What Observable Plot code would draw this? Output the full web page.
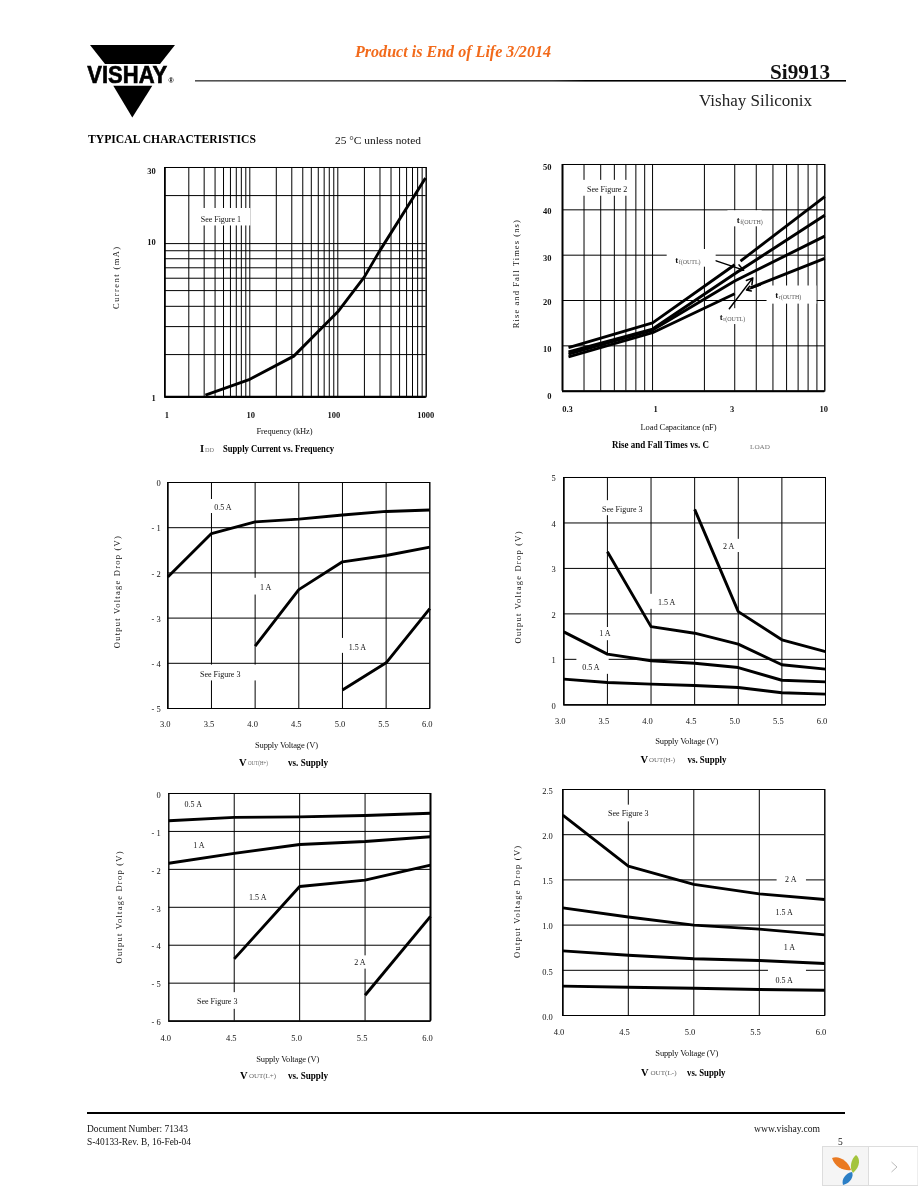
<!DOCTYPE html>
<html>
<head>
<meta charset="utf-8">
<title>Si9913 Typical Characteristics</title>
<script src="https://cdn.jsdelivr.net/npm/d3@7"></script>
<script src="https://cdn.jsdelivr.net/npm/@observablehq/plot@0.6"></script>
<style>
  html, body { margin: 0; padding: 0; background: #fff; }
  #page { position: relative; width: 918px; height: 1188px; overflow: hidden; background: #fff; font-family: "Liberation Serif", serif; }
  #page svg { position: absolute; overflow: visible; background: transparent; will-change: transform; }
</style>
</head>
<body>
<div id="page"></div>
<script>
// ---------- Chart 1: IDD supply current vs. frequency ----------
const iddFrequency = [3.1, 10, 31.6, 100, 200, 293, 982];
const iddCurrent   = [1.03, 1.335, 1.95, 3.7, 6.12, 8.85, 25.8];
const freqGrid = [1,2,3,4,5,6,7,8,9,10,20,30,40,50,60,70,80,90,100,200,300,400,500,600,700,800,900,1000];
const currentGrid = [1,2,3,4,5,6,7,8,9,10,20,30];

// ---------- Chart 2: rise and fall times vs. load capacitance ----------
const capGrid = [0.3,0.4,0.5,0.6,0.7,0.8,0.9,1,2,3,4,5,6,7,8,9,10];
const capX     = [0.325, 1, 3];
const tfOuthA  = [9.63, 15.07, 27.9];
const tfOuthBx = [3.24, 10];
const tfOuthB  = [28.7, 42.9];
const tfOutlX  = [0.325, 1, 3, 10];
const tfOutl   = [8.68, 13.7, 25.9, 38.8];
const trOuth   = [8.16, 13.5, 24.3, 34.2];
const trOutlA  = [7.57, 12.9, 21.5];
const trOutlBx = [3.7, 10];
const trOutlB  = [22.8, 29.3];

// ---------- Chart 3: VOUT(H+) vs. supply ----------
const hPlusV = [3, 3.5, 4, 4.5, 5, 5.5, 6];
const hPlus05A = [-2.09, -1.13, -0.87, -0.81, -0.72, -0.64, -0.61];
const hPlus1A  = [-3.62, -2.37, -1.755, -1.615, -1.43];
const hPlus15A = [-4.59, -3.99, -2.79];

// ---------- Chart 4: VOUT(H-) vs. supply ----------
const hMinus05A = [0.565, 0.49, 0.455, 0.425, 0.38, 0.264, 0.235];
const hMinus1A  = [1.605, 1.115, 0.97, 0.915, 0.82, 0.54, 0.505];
const hMinus15A = [3.365, 1.72, 1.575, 1.335, 0.88, 0.785];
const hMinus2A  = [4.3, 2.05, 1.43, 1.17];

// ---------- Chart 5: VOUT(L+) vs. supply ----------
const lV = [4, 4.5, 5, 5.5, 6];
const lPlus05A = [-0.72, -0.63, -0.615, -0.58, -0.52];
const lPlus1A  = [-1.84, -1.58, -1.345, -1.265, -1.14];
const lPlus15A = [-4.36, -2.45, -2.285, -1.89];
const lPlus2A  = [-5.32, -3.24];

// ---------- Chart 6: VOUT(L-) vs. supply ----------
const lMinus05A = [0.325, 0.313, 0.302, 0.288, 0.28];
const lMinus1A  = [0.715, 0.667, 0.627, 0.608, 0.575];
const lMinus15A = [1.19, 1.09, 1.0, 0.955, 0.892];
const lMinus2A  = [2.216, 1.652, 1.45, 1.346, 1.283];

const rows = (xs, ys) => ys.map((y, i) => ({x: xs[i], y}));
const serif = "Liberation Serif";
const dash = d => d < 0 ? "- " + Math.abs(d) : String(d);

const charts = [
  {
    frame: [164.3, 425.7, 167.3, 396.7], cell: [100, 340],
    x: {type: "log", domain: [1, 2, 10, 100, 1000], offsets: [0, 24, 85, 173, 261.4]},
    y: {type: "log", domain: [1, 2, 3, 5, 10, 30], offsets: [0, 42.3, 70.3, 106.3, 153.3, 229.4]},
    gridX: freqGrid, gridY: currentGrid,
    xTicks: [1, 10, 100, 1000], xDx: {1: 2, 10: 1, 100: -4, 1000: -0.5}, xTickY: 414.7, xFmt: String,
    yTicks: [1, 10, 30], yDy: {1: 1, 10: -1, 30: 4}, yPad: 9, yFmt: String, tickWeight: "bold",
    xLabel: ["Frequency (kHz)", 284, 431.3, 56], yLabel: ["Current (mA)", 116, 277.7, 62],
    lines: [rows(iddFrequency, iddCurrent)],
    masks: [{x1: 2.67, x2: 10.3, y1: 12.9, y2: 16.6}],
    notes: [{x: 4.66, y: 14.2, t: "See Figure 1"}],
    border: {left: 1.6, bottom: 2.4}
  },
  {
    frame: [562, 824.3, 164.3, 391], cell: [505, 335],
    x: {type: "log", domain: [0.3, 10]},
    y: {domain: [0, 50]},
    gridX: capGrid, gridY: [0, 10, 20, 30, 40, 50],
    xTicks: [0.3, 1, 3, 10], xDx: {0.3: 5, 1: 3, 3: -2.7, 10: -1}, xTickY: 409, xFmt: String, xAsText: true,
    yTicks: [0, 10, 20, 30, 40, 50], yDy: {0: 4.7, 40: 1.5, 20: 1.5}, yDyAll: 3.2, yPad: 11, yFmt: String, tickWeight: "bold",
    xLabel: ["Load Capacitance (nF)", 678, 427.5, 76], yLabel: ["Rise and Fall Times (ns)", 515.7, 274, 108],
    lines: [rows(capX, tfOuthA), rows(tfOuthBx, tfOuthB), rows(tfOutlX, tfOutl), rows(tfOutlX, trOuth), rows(capX, trOutlA), rows(trOutlBx, trOutlB)],
    masks: [
      {x1: 0.37, x2: 0.735, y1: 43, y2: 46.5},
      {x1: 2.74, x2: 4.33, y1: 36.25, y2: 39.8},
      {x1: 1.216, x2: 2.34, y1: 27.35, y2: 31.25},
      {x1: 4.62, x2: 9.0, y1: 19.2, y2: 23.2},
      {x1: 2.43, x2: 3.46, y1: 14.7, y2: 18.2}
    ],
    notes: [{x: 0.545, y: 44.5, t: "See Figure 2"}],
    times: [
      {x: 3.12, y: 37.7, sub: "f(OUTH)"},
      {x: 1.371, y: 28.9, sub: "f(OUTL)"},
      {x: 5.22, y: 21.2, sub: "r(OUTH)"},
      {x: 2.49, y: 16.3, sub: "r(OUTL)"}
    ],
    arrows: [
      {x1: 2.34, y1: 28.75, x2: 3.38, y2: 26.7},
      {x1: 2.79, y1: 18.2, x2: 3.82, y2: 25},
      {x1: 4.23, y1: 23.4, x2: 3.51, y2: 22.3}
    ],
    border: {left: 2, bottom: 2}
  },
  {
    frame: [167.3, 429.3, 482.3, 708.3], cell: [100, 340],
    x: {domain: [3, 6]}, y: {domain: [-5, 0]},
    gridX: [3, 3.5, 4, 4.5, 5, 5.5, 6], gridY: [0, -1, -2, -3, -4, -5],
    xTicks: [3, 3.5, 4, 4.5, 5, 5.5, 6], xDxAll: -2.5, xTickY: 724.3, xFmt: d3.format(".1f"),
    yTicks: [0, -1, -2, -3, -4, -5], yDyAll: 1, yPad: 7, yFmt: dash,
    xLabel: ["Supply Voltage (V)", 286, 745, 63], yLabel: ["Output Voltage Drop (V)", 116.7, 592, 112],
    lines: [rows(hPlusV, hPlus05A), rows(hPlusV.slice(2), hPlus1A), rows(hPlusV.slice(4), hPlus15A)],
    masks: [
      {x1: 3.49, x2: 3.775, y1: -0.686, y2: -0.376},
      {x1: 3.985, x2: 4.245, y1: -2.49, y2: -2.12},
      {x1: 4.985, x2: 5.31, y1: -3.78, y2: -3.45},
      {x1: 3.34, x2: 4.02, y1: -4.39, y2: -4.04}
    ],
    notes: [
      {x: 3.63, y: -0.56, t: "0.5 A"}, {x: 4.12, y: -2.32, t: "1 A"},
      {x: 5.17, y: -3.64, t: "1.5 A"}, {x: 3.6, y: -4.25, t: "See Figure 3"}
    ],
    border: {left: 1.2, bottom: 1.2}
  },
  {
    frame: [563.3, 825, 476.7, 704], cell: [505, 335],
    x: {domain: [3, 6]}, y: {domain: [0, 5]},
    gridX: [3, 3.5, 4, 4.5, 5, 5.5, 6], gridY: [0, 1, 2, 3, 4, 5],
    xTicks: [3, 3.5, 4, 4.5, 5, 5.5, 6], xDxAll: -3.5, xTickY: 720, xFmt: d3.format(".1f"),
    yTicks: [0, 1, 2, 3, 4, 5], yDyAll: 1.2, yPad: 8, yFmt: String,
    xLabel: ["Supply Voltage (V)", 686.3, 740.7, 63], yLabel: ["Output Voltage Drop (V)", 517.7, 586.7, 112],
    lines: [rows(hPlusV, hMinus05A), rows(hPlusV, hMinus1A), rows(hPlusV.slice(1), hMinus15A), rows(hPlusV.slice(3), hMinus2A)],
    masks: [
      {x1: 3.44, x2: 3.92, y1: 4.16, y2: 4.49},
      {x1: 4.815, x2: 5.02, y1: 3.35, y2: 3.64},
      {x1: 3.98, x2: 4.32, y1: 2.1, y2: 2.43},
      {x1: 3.36, x2: 3.59, y1: 1.41, y2: 1.7},
      {x1: 3.15, x2: 3.52, y1: 0.67, y2: 1.08}
    ],
    notes: [
      {x: 3.67, y: 4.3, t: "See Figure 3"}, {x: 4.89, y: 3.49, t: "2 A"},
      {x: 4.18, y: 2.26, t: "1.5 A"}, {x: 3.47, y: 1.57, t: "1 A"}, {x: 3.31, y: 0.82, t: "0.5 A"}
    ],
    border: {left: 1.2, bottom: 1.2}
  },
  {
    frame: [168.3, 430, 792.7, 1020.3], cell: [100, 340],
    x: {domain: [4, 6]}, y: {domain: [-6, 0]},
    gridX: lV, gridY: [0, -1, -2, -3, -4, -5, -6],
    xTicks: lV, xDxAll: -3, xTickY: 1037.3, xFmt: d3.format(".1f"),
    yTicks: [0, -1, -2, -3, -4, -5, -6], yDyAll: 1.5, yPad: 8, yFmt: dash,
    xLabel: ["Supply Voltage (V)", 287.3, 1058.3, 63], yLabel: ["Output Voltage Drop (V)", 118.3, 906.7, 112],
    lines: [rows(lV, lPlus05A), rows(lV, lPlus1A), rows(lV.slice(1), lPlus15A), rows(lV.slice(3), lPlus2A)],
    masks: [
      {x1: 5.4, x2: 5.52, y1: -4.63, y2: -4.28},
      {x1: 4.22, x2: 4.68, y1: -5.69, y2: -5.25}
    ],
    notes: [
      {x: 4.187, y: -0.3, t: "0.5 A"}, {x: 4.23, y: -1.38, t: "1 A"},
      {x: 4.68, y: -2.75, t: "1.5 A"}, {x: 5.46, y: -4.45, t: "2 A"}, {x: 4.37, y: -5.47, t: "See Figure 3"}
    ],
    border: {right: 2, bottom: 1.2}
  },
  {
    frame: [562.3, 824.3, 789.3, 1015.3], cell: [505, 335],
    x: {domain: [4, 6]}, y: {domain: [0, 2.5]},
    gridX: lV, gridY: [0, 0.5, 1, 1.5, 2, 2.5],
    xTicks: lV, xDxAll: -3.8, xTickY: 1031.7, xFmt: d3.format(".1f"),
    yTicks: [0, 0.5, 1, 1.5, 2, 2.5], yDyAll: 1.5, yPad: 10, yFmt: d3.format(".1f"),
    xLabel: ["Supply Voltage (V)", 686.3, 1053.3, 63], yLabel: ["Output Voltage Drop (V)", 516.7, 901.7, 112],
    lines: [rows(lV, lMinus05A), rows(lV, lMinus1A), rows(lV, lMinus15A), rows(lV, lMinus2A)],
    masks: [
      {x1: 4.356, x2: 4.656, y1: 2.142, y2: 2.327},
      {x1: 5.636, x2: 5.86, y1: 1.468, y2: 1.534},
      {x1: 5.57, x2: 5.86, y1: 0.472, y2: 0.52}
    ],
    notes: [
      {x: 4.5, y: 2.235, t: "See Figure 3"}, {x: 5.74, y: 1.505, t: "2 A"},
      {x: 5.69, y: 1.14, t: "1.5 A"}, {x: 5.73, y: 0.75, t: "1 A"}, {x: 5.69, y: 0.39, t: "0.5 A"}
    ],
    border: {left: 1.2, bottom: 1.2}
  }
];

const page = document.getElementById("page");

function drawChart(c) {
  const [L, R, T, B] = c.frame;
  const [cellX, cellW] = c.cell;
  const cellY = T - 15;
  const height = B - T + 15 + 55;
  const marginLeft = L - cellX, marginTop = T - cellY;
  const marginRight = cellX + cellW - R, marginBottom = height - (B - T) - marginTop;

  const xScale = {...c.x};
  if (c.x.offsets) { xScale.range = c.x.offsets.map(o => marginLeft + o); delete xScale.offsets; }
  const yScale = {...c.y};
  if (c.y.offsets) { yScale.range = c.y.offsets.map(o => marginTop + (B - T) - o); delete yScale.offsets; }
  xScale.axis = null; yScale.axis = null;

  const xMin = c.x.domain[0], xMax = c.x.domain[c.x.domain.length - 1];
  const yMin = c.y.domain[0];
  const ink = "#000";
  const marks = [
    Plot.gridX(c.gridX, {stroke: ink, strokeOpacity: 1, strokeWidth: 1}),
    Plot.gridY(c.gridY, {stroke: ink, strokeOpacity: 1, strokeWidth: 1}),
    Plot.rect(c.masks, {x1: "x1", x2: "x2", y1: "y1", y2: "y2", fill: "#fff"}),
    Plot.frame({stroke: ink, strokeWidth: 1})
  ];
  if (c.border.left) marks.push(Plot.ruleX([xMin], {stroke: ink, strokeWidth: c.border.left}));
  if (c.border.right) marks.push(Plot.ruleX([xMax], {stroke: ink, strokeWidth: c.border.right}));
  if (c.border.bottom) marks.push(Plot.ruleY([yMin], {stroke: ink, strokeWidth: c.border.bottom}));
  for (const r of c.lines) {
    marks.push(Plot.line(r, {x: "x", y: "y", stroke: ink, strokeWidth: 2.9, strokeLinecap: "butt", strokeLinejoin: "round"}));
  }
  if (c.arrows) {
    marks.push(Plot.arrow(c.arrows, {x1: "x1", y1: "y1", x2: "x2", y2: "y2", stroke: ink, strokeWidth: 1.5, headLength: 7, bend: 0}));
  }
  const weight = c.tickWeight || "normal";
  for (const v of c.xTicks) {
    const dx = c.xDx ? (c.xDx[v] || 0) : c.xDxAll;
    if (c.xAsText) {
      marks.push(Plot.text([v], {x: d => d, text: c.xFmt, frameAnchor: "bottom", lineAnchor: "middle", dx, dy: c.xTickY - B,
        fontSize: 8.5, fontFamily: serif, fontWeight: weight, fill: "#111"}));
    } else {
      marks.push(Plot.axisX([v], {anchor: "bottom", tickSize: 0, tickPadding: c.xTickY - B - 3.2, dx, label: null,
        tickFormat: c.xFmt, fontSize: 8.5, fontFamily: serif, fontWeight: weight, fill: "#111"}));
    }
  }
  for (const v of c.yTicks) {
    const dy = (c.yDy && c.yDy[v] !== undefined) ? c.yDy[v] : (c.yDyAll || 0);
    marks.push(Plot.axisY([v], {anchor: "left", tickSize: 0, tickPadding: c.yPad, dy, label: null,
      tickFormat: c.yFmt, fontSize: 8.5, fontFamily: serif, fontWeight: weight, fill: "#111"}));
  }
  const [xl, xlX, xlY] = c.xLabel;
  const [yl, ylX, ylY] = c.yLabel;
  marks.push(Plot.text([xl], {frameAnchor: "bottom", textAnchor: "middle", lineAnchor: "middle",
    dx: xlX - (L + R) / 2, dy: xlY - B, fontSize: 8.5, fontFamily: serif, fill: "#111"}));
  marks.push(Plot.text([yl], {frameAnchor: "left", textAnchor: "middle", lineAnchor: "middle", rotate: -90,
    dx: ylX - L, dy: ylY - (T + B) / 2, fontSize: 8.5, fontFamily: serif, fill: "#111"}));
  marks.push(Plot.text(c.notes, {x: "x", y: "y", text: "t", textAnchor: "middle", lineAnchor: "middle",
    fontSize: 8, fontFamily: serif, fill: "#111"}));
  if (c.times) {
    marks.push(Plot.text(c.times, {x: "x", y: "y", text: () => "t", textAnchor: "start", lineAnchor: "middle",
      dx: -1, fontSize: 9, fontWeight: "bold", fontFamily: serif, fill: "#111"}));
    marks.push(Plot.text(c.times, {x: "x", y: "y", text: "sub", textAnchor: "start", lineAnchor: "middle",
      dx: 2.5, dy: 2, fontSize: 6, fontFamily: serif, fill: "#555"}));
  }

  const svg = Plot.plot({
    width: cellW, height, marginLeft, marginRight, marginTop, marginBottom,
    x: xScale, y: yScale, marks,
    style: {fontFamily: serif, background: "transparent", overflow: "visible"}
  });
  svg.style.left = cellX + "px";
  svg.style.top = cellY + "px";
  // stretch the axis titles to the span they occupy in the scan
  d3.select(svg).selectAll("text").each(function () {
    if (this.textContent === xl) this.setAttribute("textLength", c.xLabel[3]);
    if (this.textContent === yl) this.setAttribute("textLength", c.yLabel[3]);
  });
  page.appendChild(svg);
}
charts.forEach(drawChart);

// ---------- page furniture: header, chart captions, footer ----------
const pageTexts = [
  {t: "Product is End of Life 3/2014", x: 355, y: 51, w: 196, size: 16, weight: "bold", style: "italic", fill: "#f26a1b"},
  {t: "Si9913", x: 770, y: 71.5, w: 60, size: 20, weight: "bold", fill: "#111"},
  {t: "Vishay Siliconix", x: 699, y: 100.5, w: 113, size: 16, fill: "#222"},
  {t: "TYPICAL CHARACTERISTICS", x: 88, y: 139, w: 168, size: 11.5, weight: "bold", fill: "#000"},
  {t: "25 °C unless noted", x: 335, y: 139.5, w: 86, size: 11, fill: "#111"},

  {t: "I", x: 200, y: 448, size: 10.5, weight: "bold", fill: "#000"},
  {t: "DD", x: 205, y: 449.5, w: 9, size: 6, fill: "#777"},
  {t: "Supply Current vs. Frequency", x: 223, y: 448, w: 111, size: 10, weight: "bold", fill: "#000"},

  {t: "Rise and Fall Times vs. C", x: 612, y: 444, w: 97, size: 10, weight: "bold", fill: "#000"},
  {t: "LOAD", x: 750, y: 447, w: 20, size: 6, fill: "#777"},

  {t: "V", x: 239, y: 762, size: 10.5, weight: "bold", fill: "#000"},
  {t: "OUT(H+)", x: 248, y: 763, w: 20, size: 6, fill: "#666"},
  {t: "vs. Supply", x: 288, y: 762, w: 40, size: 10, weight: "bold", fill: "#000"},

  {t: "V", x: 640.5, y: 759, size: 10.5, weight: "bold", fill: "#000"},
  {t: "OUT(H-)", x: 649, y: 760, w: 26, size: 6, fill: "#666"},
  {t: "vs. Supply", x: 687.5, y: 759, w: 39, size: 10, weight: "bold", fill: "#000"},

  {t: "V", x: 240, y: 1075, size: 10.5, weight: "bold", fill: "#000"},
  {t: "OUT(L+)", x: 249, y: 1076, w: 27, size: 6, fill: "#666"},
  {t: "vs. Supply", x: 288, y: 1075, w: 40, size: 10, weight: "bold", fill: "#000"},

  {t: "V", x: 641, y: 1072, size: 10.5, weight: "bold", fill: "#000"},
  {t: "OUT(L-)", x: 650.5, y: 1073, w: 26, size: 6, fill: "#666"},
  {t: "vs. Supply", x: 687, y: 1072, w: 38.5, size: 10, weight: "bold", fill: "#000"},

  {t: "Document Number: 71343", x: 87, y: 1129, w: 101, size: 9.5, fill: "#111"},
  {t: "S-40133-Rev. B, 16-Feb-04", x: 87, y: 1142, w: 104, size: 9.5, fill: "#111"},
  {t: "www.vishay.com", x: 754, y: 1129, w: 66, size: 9.5, fill: "#111"},
  {t: "5", x: 838, y: 1142, size: 9.5, fill: "#111"}
];

const overlay = d3.create("svg").attr("width", 918).attr("height", 1188)
  .style("left", "0px").style("top", "0px");

// logo
overlay.append("polygon").attr("points", "90,45 175,45 160,64 105,64").attr("fill", "#000");
overlay.append("polygon").attr("points", "113.3,85.7 152.3,85.7 132.3,117.5").attr("fill", "#000");
overlay.append("text").text("VISHAY").attr("x", 87.3).attr("y", 82.7)
  .attr("font-family", "Liberation Sans").attr("font-weight", "bold").attr("font-size", 23)
  .attr("textLength", 80).attr("lengthAdjust", "spacingAndGlyphs").attr("fill", "#000")
  .attr("stroke", "#000").attr("stroke-width", 0.6);
overlay.append("text").text("®").attr("x", 168.5).attr("y", 83)
  .attr("font-family", "Liberation Sans").attr("font-weight", "bold").attr("font-size", 7).attr("fill", "#000");

// header and footer rules
const grad = overlay.append("linearGradient").attr("id", "hdr").attr("x1", 0).attr("x2", 1).attr("y1", 0).attr("y2", 0);
grad.append("stop").attr("offset", 0).attr("stop-color", "#555");
grad.append("stop").attr("offset", 0.55).attr("stop-color", "#333");
grad.append("stop").attr("offset", 0.6).attr("stop-color", "#000");
overlay.append("rect").attr("x", 195).attr("y", 80).attr("width", 651).attr("height", 1.6).attr("fill", "url(#hdr)");
overlay.append("rect").attr("x", 87).attr("y", 1112).attr("width", 758).attr("height", 2).attr("fill", "#000");

// page texts
for (const d of pageTexts) {
  const t = overlay.append("text").text(d.t).attr("x", d.x).attr("y", d.y)
    .attr("dominant-baseline", "central")
    .attr("font-family", serif).attr("font-size", d.size)
    .attr("font-weight", d.weight || "normal").attr("font-style", d.style || "normal")
    .attr("fill", d.fill);
  if (d.w) t.attr("textLength", d.w).attr("lengthAdjust", "spacingAndGlyphs");
}

// viewer thumbnail in the bottom corner
const w = overlay.append("g");
w.append("rect").attr("x", 822.5).attr("y", 1146.5).attr("width", 46).attr("height", 39).attr("fill", "#f5f5f5").attr("stroke", "#ddd");
w.append("rect").attr("x", 868.5).attr("y", 1146.5).attr("width", 49.5).attr("height", 39).attr("fill", "#fff").attr("stroke", "#ddd");
w.append("path").attr("d", "M832,1158 C838,1155 848,1160 851,1170 C845,1171 835,1168 832,1158 Z").attr("fill", "#ea7a22");
w.append("path").attr("d", "M856,1155 C860,1158 861,1166 853,1173 C849,1168 851,1159 856,1155 Z").attr("fill", "#a3c43c");
w.append("path").attr("d", "M852,1172 C854,1176 851,1183 843,1185 C841,1179 846,1173 852,1172 Z").attr("fill", "#2c7fc6");
w.append("path").attr("d", "M891.5,1162 L897,1167 L891.5,1172").attr("fill", "none").attr("stroke", "#bbb").attr("stroke-width", 1);

page.appendChild(overlay.node());
</script>
</body>
</html>
